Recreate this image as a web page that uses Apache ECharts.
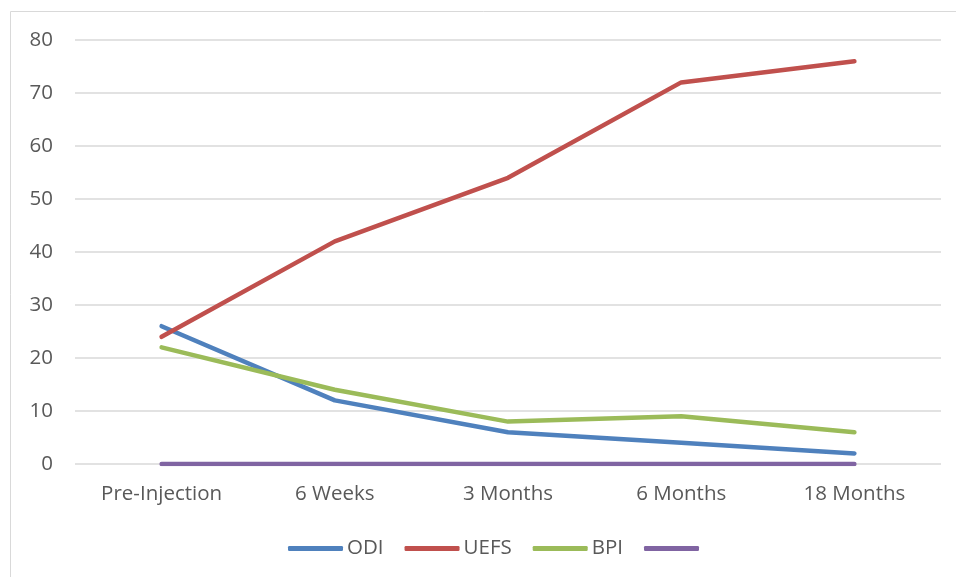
<!DOCTYPE html>
<html><head><meta charset="utf-8">
<script src="https://cdn.jsdelivr.net/npm/echarts@6/dist/echarts.min.js"></script>
<style>html,body{margin:0;padding:0;background:#fff}#c{width:956px;height:577px}</style>
</head><body><div id="c"></div>
<script>
const categories = ['Pre-Injection', '6 Weeks', '3 Months', '6 Months', '18 Months'];
const odi = [26, 12, 6, 4, 2];
const uefs = [24, 42, 54, 72, 76];
const bpi = [22, 14, 8, 9, 6];
const fourth = [0, 0, 0, 0, 0];
const yTicks = [0, 10, 20, 30, 40, 50, 60, 70, 80];

const font = 'Open Sans';
const txt = '#595959';
function mk(name, data, color) {
  return { name: name, type: 'line', data: data, symbol: 'none', color: color,
    lineStyle: { width: 4.5, color: color, cap: 'round', join: 'round' }, z: 3 };
}
const chart = echarts.init(document.getElementById('c'));
chart.setOption({
  animation: false,
  graphic: [{ type: 'rect', shape: { x: 10.5, y: 11.5, width: 1000, height: 1000 },
    style: { fill: 'none', stroke: '#d9d9d9', lineWidth: 1 }, silent: true }],
  grid: { left: 75, right: 15, top: 40, bottom: 113 },
  xAxis: { type: 'category', data: categories, boundaryGap: true,
    axisLine: { show: false }, axisTick: { show: false },
    axisLabel: { color: txt, fontFamily: font, fontSize: 20.5, margin: 20 } },
  yAxis: { type: 'value', min: yTicks[0], max: yTicks[yTicks.length - 1], interval: 10,
    axisLine: { show: false }, axisTick: { show: false },
    axisLabel: { color: txt, fontFamily: font, fontSize: 20.5, margin: 22 },
    splitLine: { lineStyle: { color: '#d9d9d9', width: 1.5 } } },
  legend: { bottom: 13, left: 283, itemWidth: 55, itemHeight: 5, itemGap: 21,
    icon: 'roundRect',
    textStyle: { color: txt, fontFamily: font, fontSize: 20.5, padding: [0, 0, 0, -1] },
    data: ['ODI', 'UEFS', 'BPI', ' '] },
  series: [mk('ODI', odi, '#4F81BD'), mk('UEFS', uefs, '#C0504D'), mk('BPI', bpi, '#9BBB59'), mk(' ', fourth, '#8064A2')]
});
</script></body></html>
